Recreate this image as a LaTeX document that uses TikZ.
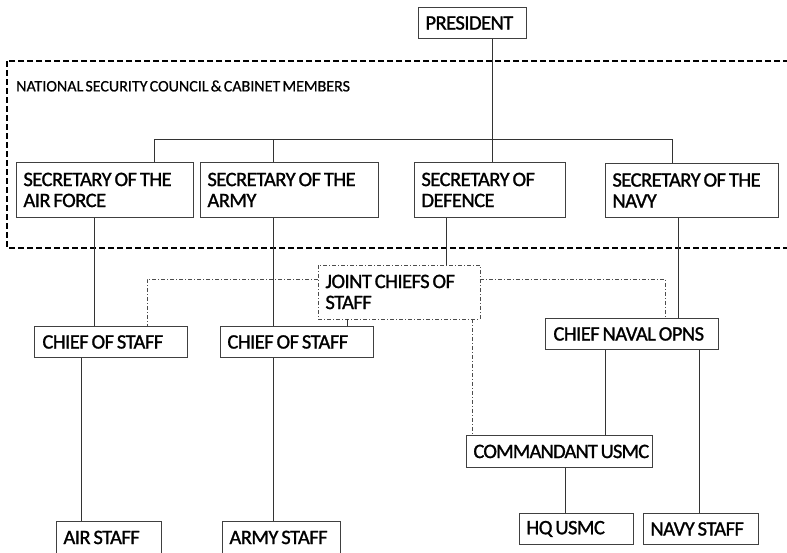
\documentclass[tikz,border=0pt]{standalone}
\usepackage{fontspec}
\setmainfont{Carlito}
\newfontfamily\boxfont{Carlito}[LetterSpace=-2.5, WordSpace=0.7, FakeBold=1.2]
\newfontfamily\lblfont{Carlito}[LetterSpace=0, WordSpace=0.6, FakeBold=0.6]
\begin{document}
\begin{tikzpicture}[x=1pt,y=-1pt,
 box/.style={draw=black!75, line width=0.9pt, anchor=north west, inner xsep=7pt, inner ysep=0pt, align=left, font=\boxfont\fontsize{20.5}{21}\selectfont, execute at begin node={\spaceskip=0pt\xspaceskip=0pt\relax}},
 ln/.style={draw=black!80, line width=0.9pt},
 dd/.style={draw=black!70, line width=0.8pt, dash pattern=on 4pt off 2pt on 1pt off 2pt},
 grp/.style={draw=black, line width=2.5pt, dash pattern=on 6pt off 3pt},
 lbl/.style={anchor=west, inner sep=0pt, font=\lblfont\fontsize{16}{17}\selectfont}]
\useasboundingbox (0,0) rectangle (787,552);
% group box
\draw[grp] (7,61) rectangle (805,248);
\node[lbl] (nsc) at (16,86) {NATIONAL SECURITY COUNCIL \& CABINET MEMBERS};
% boxes
\node[box, text width=94pt, minimum height=31pt] (pres) at (418,7) {PRESIDENT};
\node[box, text width=163pt, minimum height=55pt] (saf) at (16,162) {SECRETARY OF THE\\AIR FORCE};
\node[box, text width=164pt, minimum height=55pt] (sar) at (200,162) {SECRETARY OF THE\\ARMY};
\node[box, text width=137pt, minimum height=55pt] (sdf) at (414,162) {SECRETARY OF\\DEFENCE};
\node[box, text width=159pt, minimum height=54pt] (snv) at (605,163) {SECRETARY OF THE\\NAVY};
\node[box, draw=none, text width=147pt, minimum height=53pt] (jcs) at (318,265) {JOINT CHIEFS OF\\STAFF};
\draw[dd] (jcs.north west) rectangle (jcs.south east);
\node[box, text width=139pt, minimum height=31pt] (csa) at (34,326) {\hspace{1pt}CHIEF OF STAFF};
\node[box, text width=139pt, minimum height=31pt] (csr) at (220,326) {CHIEF OF STAFF};
\node[box, text width=159pt, minimum height=31pt] (cno) at (545,318) {\hspace{1pt}CHIEF NAVAL OPNS};
\node[box, text width=172pt, minimum height=32pt] (cmd) at (466,435) {\makebox[0pt][l]{\addfontfeatures{LetterSpace=-4}COMMANDANT USMC}};
\node[box, text width=91pt, minimum height=32pt] (ast) at (56,521) {AIR STAFF};
\node[box, text width=104pt, minimum height=32pt] (ars) at (222,521) {ARMY STAFF};
\node[box, text width=100pt, minimum height=31pt] (hq) at (519,513) {HQ USMC};
\node[box, text width=101pt, minimum height=31pt] (nst) at (643,513) {NAVY STAFF};
% coordinates
\coordinate (busL) at (154,139);
\coordinate (busA) at (273,139);
\coordinate (busC) at (492,139);
\coordinate (busR) at (672,139);
\coordinate (x1) at (94,0);
\coordinate (x2) at (446,0);
\coordinate (x3) at (678,0);
\coordinate (x4) at (81,0);
\coordinate (x5) at (605,0);
\coordinate (x6) at (699,0);
\coordinate (x7) at (565,0);
\coordinate (x8) at (347,0);
\coordinate (x9) at (472,0);
\coordinate (dl) at (147,279);
\coordinate (dr) at (665,279);
% connectors
\draw[ln] (pres.south -| busC) -- (sdf.north -| busC);
\draw[ln] (saf.north -| busL) -- (busL) -- (busR) -- (snv.north -| busR);
\draw[ln] (busA) -- (sar.north -| busA);
\draw[ln] (saf.south -| x1) -- (csa.north -| x1);
\draw[ln] (sar.south -| busA) -- (csr.north -| busA);
\draw[ln] (sdf.south -| x2) -- (jcs.north -| x2);
\draw[ln] (snv.south -| x3) -- (cno.north -| x3);
\draw[ln] (jcs.south -| x8) -- (csr.north -| x8);
\draw[ln] (csa.south -| x4) -- (ast.north -| x4);
\draw[ln] (csr.south -| busA) -- (ars.north -| busA);
\draw[ln] (cno.south -| x5) -- (cmd.north -| x5);
\draw[ln] (cno.south -| x6) -- (nst.north -| x6);
\draw[ln] (cmd.south -| x7) -- (hq.north -| x7);
\draw[dd] (jcs.west |- dl) -- (dl) -- (csa.north -| dl);
\draw[dd] (jcs.east |- dr) -- (dr) -- (cno.north -| dr);
\draw[dd] (jcs.south -| x9) -- (cmd.north -| x9);
\end{tikzpicture}
\end{document}
